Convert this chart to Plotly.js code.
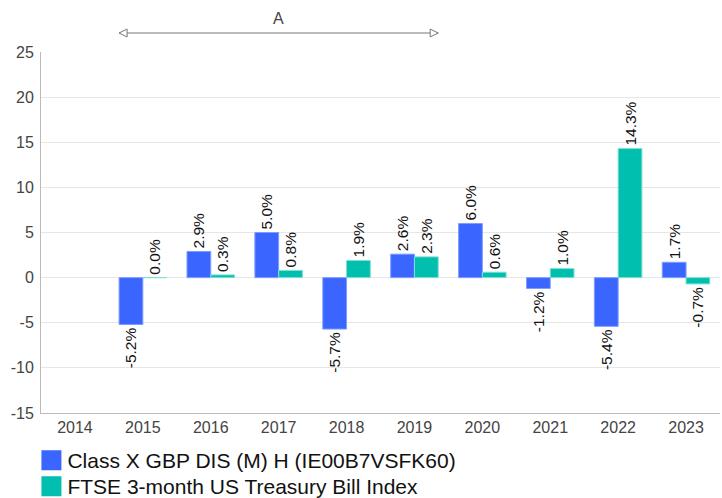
<!DOCTYPE html>
<html><head><meta charset="utf-8">
<script src="https://cdn.plot.ly/plotly-3.0.1.min.js"></script>
<style>html,body{margin:0;padding:0;background:#fff}#chart{width:722px;height:498px}</style>
</head><body><div id="chart"></div>
<script>
const years = ["2014","2015","2016","2017","2018","2019","2020","2021","2022","2023"];
const seriesNames = ["Class X GBP DIS (M) H (IE00B7VSFK60)", "FTSE 3-month US Treasury Bill Index"];
const fundValues = [null, -5.2, 2.9, 5.0, -5.7, 2.6, 6.0, -1.2, -5.4, 1.7];
const indexValues = [null, 0.0, 0.3, 0.8, 1.9, 2.3, 0.6, 1.0, 14.3, -0.7];
const yTicks = [-15, -10, -5, 0, 5, 10, 15, 20, 25];
const periodLabel = "A";
const periodStart = "2015", periodEnd = "2019";

const fmt = v => v === null ? "" : v.toFixed(1) + "%";
const font = "Liberation Sans, Arial, sans-serif";

function barTrace(name, vals, color, lineColor) {
  return {
    type: "bar", name: name, x: years, y: vals,
    text: vals.map(fmt), textposition: "outside", textangle: -90,
    constraintext: "none", cliponaxis: false,
    textfont: {family: font, size: 15.5, color: "#111"},
    marker: {color: color, line: {color: lineColor, width: 1}},
    hoverinfo: "skip"
  };
}

const data = [
  barTrace(seriesNames[0], fundValues, "#3a66ff", "#7f9cff"),
  barTrace(seriesNames[1], indexValues, "#00bfae", "#7fe0d6")
];

const i0 = years.indexOf(periodStart) - 0.35;
const i1 = years.indexOf(periodEnd) + 0.35;
const yLine = 1.0526;
const ah = 0.118, av = 0.011;
const gray = "#777";

const layout = {
  width: 722, height: 498,
  margin: {l: 41, r: 2, t: 52, b: 85, autoexpand: false},
  paper_bgcolor: "#fff", plot_bgcolor: "#fff",
  font: {family: font, size: 16, color: "#444"},
  bargap: 0.3, bargroupgap: 0,
  barmode: "group",
  showlegend: true,
  legend: {orientation: "v", x: -0.02, xanchor: "left", y: -0.075, yanchor: "top",
           font: {family: font, size: 21, color: "#111"}, tracegroupgap: 0, bgcolor: "rgba(0,0,0,0)"},
  xaxis: {type: "category", categoryorder: "array", categoryarray: years,
          range: [-0.5, 9.5], showgrid: false, showline: true, linecolor: "#bbb", linewidth: 1,
          ticks: "", tickfont: {family: font, size: 16, color: "#444"}, zeroline: false, fixedrange: true},
  yaxis: {range: [-15, 25], tickvals: yTicks, ticktext: yTicks.map(String), showgrid: true,
          gridcolor: "#e6e6e6", gridwidth: 1, zeroline: false, showline: true, linecolor: "#bbb",
          linewidth: 1, ticks: "", ticklabelstandoff: 3, tickfont: {family: font, size: 16, color: "#444"}, fixedrange: true},
  shapes: [
    {type: "line", xref: "x", yref: "paper", x0: i0, x1: i1, y0: yLine, y1: yLine,
     line: {color: gray, width: 1}},
    {type: "path", xref: "x", yref: "paper",
     path: `M${i0},${yLine} L${i0 + ah},${yLine + av} L${i0 + ah},${yLine - av} Z`,
     fillcolor: "#fff", line: {color: gray, width: 1}},
    {type: "path", xref: "x", yref: "paper",
     path: `M${i1},${yLine} L${i1 - ah},${yLine + av} L${i1 - ah},${yLine - av} Z`,
     fillcolor: "#fff", line: {color: gray, width: 1}}
  ],
  annotations: [
    {xref: "x", yref: "paper", x: (i0 + i1) / 2, y: yLine + 0.012, yanchor: "bottom",
     text: periodLabel, showarrow: false, font: {family: font, size: 16, color: "#444"}}
  ]
};

function tidyLegend(gd) {
  gd.querySelectorAll(".legend .legendpoints path").forEach(p => {
    p.setAttribute("d", "M14,10H-6V-10H14Z");
    p.style.strokeWidth = "0";
  });
  const items = gd.querySelectorAll(".legend .traces");
  if (items.length > 1) {
    const m = /translate\(\s*([-\d.]+)[ ,]+([-\d.]+)\s*\)/.exec(items[0].getAttribute("transform") || "");
    if (m) {
      const x = parseFloat(m[1]), y = parseFloat(m[2]);
      items.forEach((it, k) => it.setAttribute("transform", `translate(${x},${y + k * 26})`));
    }
  }
}

Plotly.newPlot("chart", data, layout, {displayModeBar: false, staticPlot: true}).then(tidyLegend);
</script></body></html>
